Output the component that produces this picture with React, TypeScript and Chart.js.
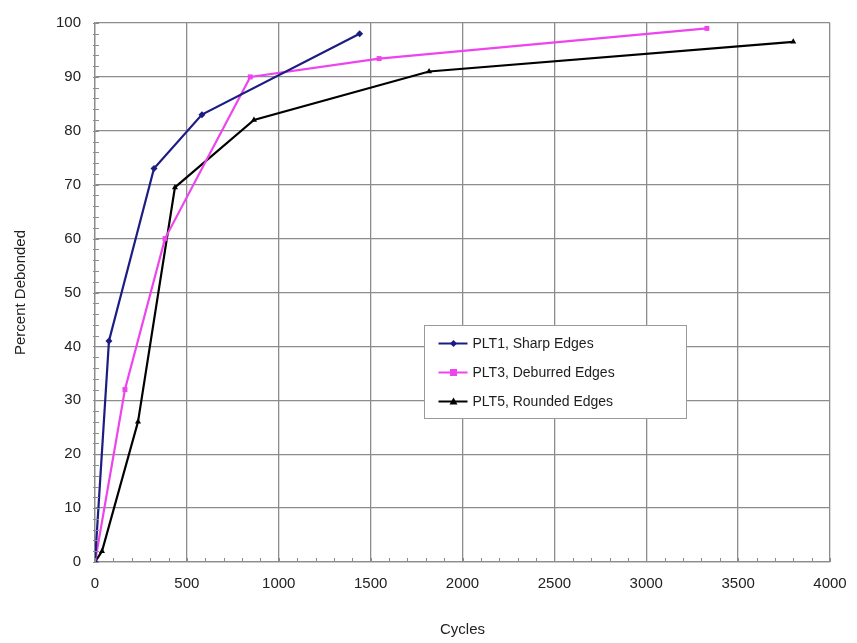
import React, { useEffect, useRef } from "react";
import { Chart, registerables } from "chart.js";

Chart.register(...registerables);

// Cycles vs. percent debonded for three edge conditions
const plt1Cycles = [0, 76, 321, 582, 1440];
const plt1Percent = [0, 41, 73, 83, 98];

const plt3Cycles = [0, 163, 381, 845, 1546, 3330];
const plt3Percent = [0, 32, 60, 90, 93.4, 99];

const plt5Cycles = [0, 38, 234, 435, 865, 1818, 3800];
const plt5Percent = [0, 2, 26, 69.5, 82, 91, 96.5];

const seriesLabels = ["PLT1, Sharp Edges", "PLT3, Deburred Edges", "PLT5, Rounded Edges"];
const seriesColors = ["#1c1c82", "#ee44ee", "#000000"];
const seriesMarkers = ["rectRot", "rect", "triangle"] as const;

const xTitle = "Cycles";
const yTitle = "Percent Debonded";

const FONT = "'Liberation Sans', Arial, sans-serif";
const GRID = "#8c8c8c";

const toPoints = (xs: number[], ys: number[]) => xs.map((x, i) => ({ x, y: ys[i] }));

// small inside tick marks between the major gridlines
const minorTicks = {
  id: "minorTicks",
  afterDatasetsDraw(chart: any) {
    const { ctx, chartArea, scales } = chart;
    const xs = scales.x;
    const ys = scales.y;
    ctx.save();
    ctx.strokeStyle = GRID;
    ctx.lineWidth = 1;
    ctx.beginPath();
    for (let v = 0; v <= xs.max; v += 100) {
      const px = Math.round(xs.getPixelForValue(v)) + 0.5;
      ctx.moveTo(px, chartArea.bottom);
      ctx.lineTo(px, chartArea.bottom - 4);
    }
    for (let v = 0; v <= ys.max; v += 2) {
      const py = Math.round(ys.getPixelForValue(v)) + 0.5;
      ctx.moveTo(chartArea.left - 2, py);
      ctx.lineTo(chartArea.left + 4, py);
    }
    ctx.stroke();
    ctx.restore();
  },
};

// boxed legend sitting inside the plot area
const boxLegend = {
  id: "boxLegend",
  afterDraw(chart: any) {
    const { ctx, chartArea } = chart;
    const w = chartArea.right - chartArea.left;
    const h = chartArea.bottom - chartArea.top;
    const left = Math.round(chartArea.left + w * 0.448) + 0.5;
    const top = Math.round(chartArea.top + h * 0.56) + 0.5;
    const boxW = 262;
    const boxH = 93;
    ctx.save();
    ctx.fillStyle = "#ffffff";
    ctx.fillRect(left, top, boxW, boxH);
    ctx.strokeStyle = "#9a9a9a";
    ctx.lineWidth = 1;
    ctx.strokeRect(left, top, boxW, boxH);
    ctx.font = `14px ${FONT}`;
    ctx.textBaseline = "middle";
    chart.data.datasets.forEach((ds: any, i: number) => {
      const cy = top + 18 + i * 29;
      ctx.strokeStyle = ds.borderColor;
      ctx.lineWidth = 2;
      ctx.beginPath();
      ctx.moveTo(left + 14, cy);
      ctx.lineTo(left + 43, cy);
      ctx.stroke();
      ctx.fillStyle = ds.borderColor;
      const m = seriesMarkers[i];
      ctx.beginPath();
      if (m === "rectRot") {
        ctx.moveTo(left + 29, cy - 3.5);
        ctx.lineTo(left + 32.5, cy);
        ctx.lineTo(left + 29, cy + 3.5);
        ctx.lineTo(left + 25.5, cy);
      } else if (m === "rect") {
        ctx.rect(left + 25.5, cy - 3.5, 7, 7);
      } else {
        ctx.moveTo(left + 29, cy - 4);
        ctx.lineTo(left + 33, cy + 3);
        ctx.lineTo(left + 25, cy + 3);
      }
      ctx.closePath();
      ctx.fill();
      ctx.fillStyle = "#1e1e1e";
      ctx.fillText(ds.label, left + 48, cy + 1);
    });
    ctx.restore();
  },
};

export default function App() {
  const canvasRef = useRef<HTMLCanvasElement | null>(null);

  useEffect(() => {
    if (!canvasRef.current) return;
    const series = [
      toPoints(plt1Cycles, plt1Percent),
      toPoints(plt3Cycles, plt3Percent),
      toPoints(plt5Cycles, plt5Percent),
    ];
    const chart = new Chart(canvasRef.current, {
      type: "line",
      data: {
        datasets: series.map((data, i) => ({
          label: seriesLabels[i],
          data,
          borderColor: seriesColors[i],
          backgroundColor: seriesColors[i],
          borderWidth: 2.2,
          pointStyle: seriesMarkers[i],
          pointRadius: 3.5,
          pointBorderWidth: 0,
          tension: 0,
          fill: false,
        })),
      },
      options: {
        animation: false,
        responsive: false,
        maintainAspectRatio: false,
        layout: { padding: { left: 0, top: 20, right: 27, bottom: 0 } },
        plugins: {
          legend: { display: false },
          tooltip: { enabled: false },
        },
        scales: {
          x: {
            type: "linear",
            min: 0,
            max: 4000,
            ticks: {
              stepSize: 500,
              padding: 13,
              color: "#222",
              font: { family: FONT, size: 15 },
              callback: (v: any) => String(v),
            },
            grid: { color: GRID, lineWidth: 1.3, drawTicks: false },
            border: { color: GRID, width: 1.3 },
            title: {
              display: true,
              text: xTitle,
              color: "#222",
              font: { family: FONT, size: 15 },
              padding: { top: 0, bottom: 4 },
            },
            afterFit: (s: any) => {
              s.height = 81;
              s.paddingLeft = 0;
              s.paddingRight = 0;
            },
          },
          y: {
            type: "linear",
            min: 0,
            max: 100,
            ticks: {
              stepSize: 10,
              padding: 14,
              color: "#222",
              font: { family: FONT, size: 15 },
            },
            grid: { color: GRID, lineWidth: 1.3, drawTicks: false },
            border: { color: GRID, width: 1.3 },
            title: {
              display: true,
              text: yTitle,
              color: "#222",
              font: { family: FONT, size: 15 },
              padding: { top: 12, bottom: 0 },
            },
            afterFit: (s: any) => {
              s.width = 95;
            },
          },
        },
      },
      plugins: [minorTicks, boxLegend],
    });
    return () => chart.destroy();
  }, []);

  return (
    <div style={{ position: "fixed", left: 0, top: 0, width: 857, height: 643, background: "#fff" }}>
      <canvas ref={canvasRef} width={857} height={643} style={{ display: "block" }} />
    </div>
  );
}
